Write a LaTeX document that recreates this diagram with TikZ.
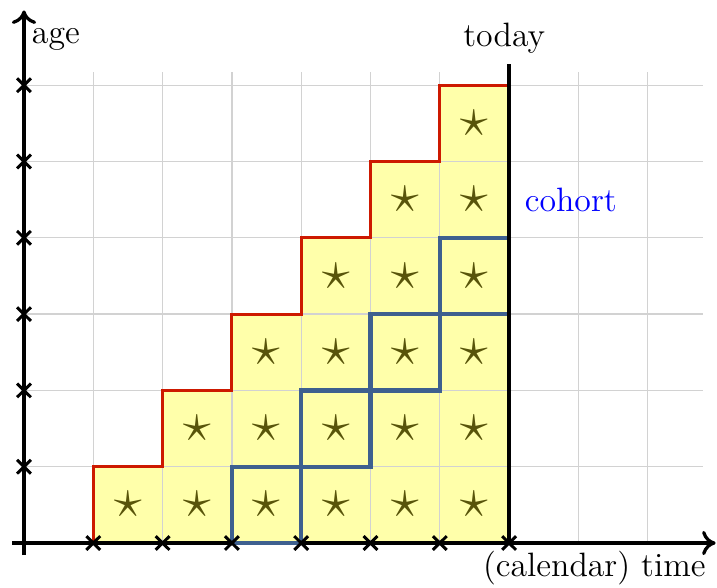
\documentclass[tikz,border=0pt]{standalone}
\usetikzlibrary{arrows.meta}

\definecolor{cellyellow}{RGB}{255,255,170}
\definecolor{starolive}{RGB}{88,84,10}
\definecolor{stairred}{RGB}{205,25,0}
\definecolor{cohortblue}{RGB}{62,96,143}

\begin{document}
\begin{tikzpicture}[
  x = 0.901cm, y = 0.992cm,
  axis/.style   = {line width=1.2pt, -{To[length=5pt,width=9pt]}},
  tick/.style   = {line width=1.1pt},
  gridline/.style = {gray!35, line width=0.5pt},
  stair/.style  = {stairred, line width=1.1pt},
  cohortbox/.style = {cohortblue, line width=1.6pt},
  starmark/.style = {starolive, font=\fontsize{21}{21}\selectfont},
  lbl/.style    = {font=\fontsize{12.5}{15}\selectfont, inner sep=0pt}
]
\useasboundingbox (-0.346,-0.577) rectangle (10.0,7.117);
\fill[cellyellow] (1,0) -- (1,1) -- (2,1) -- (2,2) -- (3,2) -- (3,3) -- (4,3)
  -- (4,4) -- (5,4) -- (5,5) -- (6,5) -- (6,6) -- (7,6) -- (7,0) -- cycle;
\draw[gridline, step={(1,1)}] (0,0) grid (9.8,6.17);
\foreach \c in {1,...,6}
  \foreach \r in {1,...,\c}
    \node[starmark] (s-\c-\r) at (\c+0.5,\r-0.5) {$\star$};
\draw[stair] (1,0) -- (1,1) -- (2,1) -- (2,2) -- (3,2) -- (3,3) -- (4,3)
  -- (4,4) -- (5,4) -- (5,5) -- (6,5) -- (6,6) -- (7,6);
\draw[axis] (-0.17,0) -- (9.98,0);
\draw[axis] (0,-0.16) -- (0,6.98);
\foreach \i in {0,...,3}
  \draw[cohortbox] (3+\i,\i) rectangle (4+\i,\i+1);
\draw[line width=1.2pt] (7,0) -- (7,6.28);
\foreach \k in {1,...,6}
  \draw[tick] (-0.1,\k-0.09) -- (0.1,\k+0.09) (-0.1,\k+0.09) -- (0.1,\k-0.09);
\foreach \k in {1,...,7}
  \draw[tick] (\k-0.1,-0.09) -- (\k+0.1,0.09) (\k-0.1,0.09) -- (\k+0.1,-0.09);
\node[lbl] (age)    at (0.46,6.6)   {age};
\node[lbl] (today)  at (6.93,6.62)  {today};
\node[lbl, blue] (cohort) at (7.89,4.5) {cohort};
\node[lbl] (time)   at (8.23,-0.33) {(calendar) time};
\end{tikzpicture}
\end{document}
